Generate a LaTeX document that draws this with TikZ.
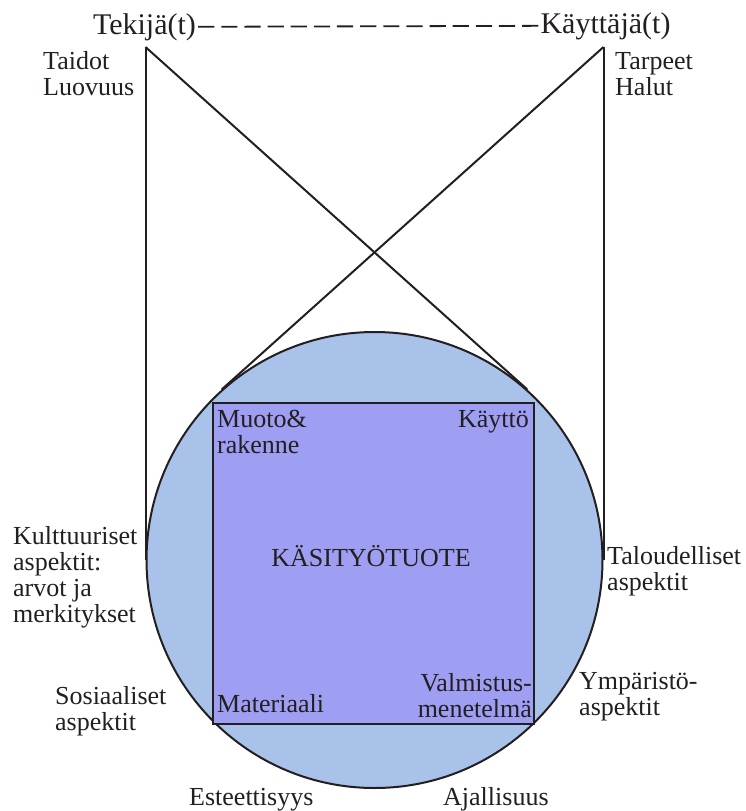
\documentclass[tikz,border=0pt]{standalone}
\usepackage{fontspec}
\setmainfont{Liberation Serif}
\usetikzlibrary{calc}
\definecolor{pallo}{RGB}{168,194,234}
\definecolor{laatikko}{RGB}{158,158,242}
\definecolor{muste}{RGB}{35,31,32}

\begin{document}
\begin{tikzpicture}[x=1pt, y=-1pt,
		viiva/.style={draw=muste, line width=2pt},
		teksti/.style={text=muste, inner sep=0pt, font=\fontsize{26}{26}\selectfont, align=left},
		otsikko/.style={text=muste, inner sep=2pt, font=\fontsize{30}{32}\selectfont}]
	\useasboundingbox (0,0) rectangle (746,811);
	% Header
	\node[otsikko, anchor=base] (tekija) at (144.5,34) {Tekijä(t)};
	\node[otsikko, anchor=base] (kayttaja) at (605.5,33) {Käyttäjä(t)};
	\foreach \i in {0,...,14} {
		\draw[viiva, line width=1.8pt] ($(tekija.east)!{\i/14.7}!(kayttaja.west)$) -- ($(tekija.east)!{(\i+0.7)/14.7}!(kayttaja.west)$);
	}
	% Circle and square
	\node[circle, viiva, fill=pallo, minimum size=456pt, inner sep=0pt] (ympyra) at (374.5,560) {};
	\node[viiva, fill=laatikko, minimum size=321pt, inner sep=0pt] (nelio) at (373.5,563) {};
	% Lines
	\coordinate (vasen) at (ympyra.west |- 0,47);
	\coordinate (oikea) at (ympyra.east |- 0,47);
	\draw[viiva] (vasen) -- (ympyra.west);
	\draw[viiva] (oikea) -- (ympyra.east);
	\draw[viiva] (vasen) -- (tangent cs:node=ympyra, point={(vasen)}, solution=2);
	\draw[viiva] (oikea) -- (tangent cs:node=ympyra, point={(oikea)}, solution=1);
	% Labels (base = last line)
	\node[teksti, anchor=base west] (taidot) at (43,95) {Taidot\\Luovuus};
	\node[teksti, anchor=base west] (tarpeet) at (615,95) {Tarpeet\\Halut};
	\node[teksti, anchor=base west] (kulttuuri) at (13,622) {Kulttuuriset\\aspektit:\\arvot ja\\merkitykset};
	\node[teksti, anchor=base west] (sosiaali) at (55,730) {Sosiaaliset\\aspektit};
	\node[teksti, anchor=base west] (talous) at (607,590) {Taloudelliset\\aspektit};
	\node[teksti, anchor=base west] (ymparisto) at (579,715) {Ympäristö-\\aspektit};
	\node[teksti, anchor=base west] (estetiikka) at (189,805) {Esteettisyys};
	\node[teksti, anchor=base west] (aika) at (443,805) {Ajallisuus};
	\node[teksti, anchor=base west] (muoto) at (217,453) {Muoto\&\\rakenne};
	\node[teksti, anchor=base east] (kaytto) at (529,427) {Käyttö};
	\node[teksti, anchor=base west] (materiaali) at (217,712) {Materiaali};
	\node[teksti, anchor=base east, align=right] (valmistus) at (532,717) {Valmistus-\\menetelmä};
	\node[teksti, anchor=base] (nimi) at (371,566) {KÄSITYÖTUOTE};
\end{tikzpicture}
\end{document}
